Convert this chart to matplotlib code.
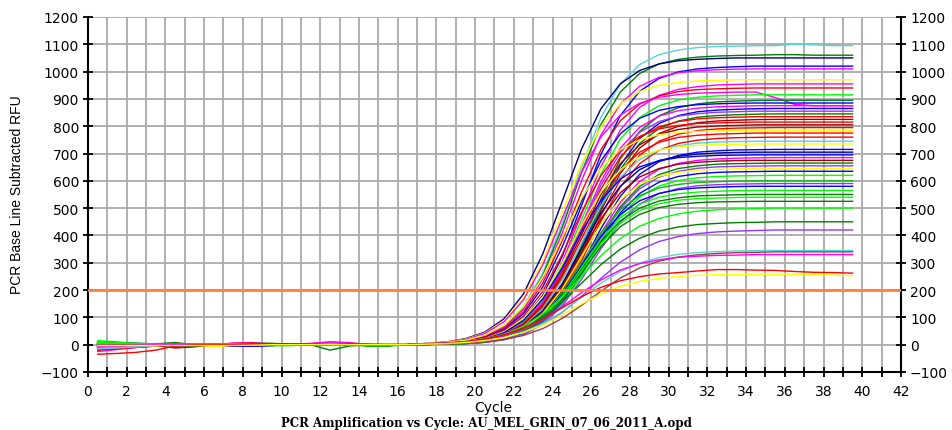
import matplotlib
matplotlib.use("Agg")
import matplotlib.pyplot as plt
import numpy as np

# PCR run AU_MEL_GRIN_07_06_2011_A, baseline subtracted RFU per well
cycles = np.arange(1, 41)
threshold = 200

well_colors = [
    "#55d5d5", "#008000", "#000080", "#0000ff", "#ff00ff", "#ffff00",
    "#ff00ff", "#ff0000", "#ff00ff", "#00ff00", "#008000", "#0000ff",
    "#ff00ff", "#0000ff", "#9933ff", "#008000", "#ff0000", "#a00000",
    "#ff0000", "#a00000", "#ff0000", "#ffff00", "#ff0000", "#ff0000",
    "#55d5d5", "#ffff00", "#0000ff", "#000080", "#0000ff", "#ff00ff",
    "#a00000", "#008000", "#9933ff", "#ffff00", "#0000ff", "#00ff00",
    "#00c000", "#9933ff", "#0000ff", "#00ff00", "#008000", "#00ff00",
    "#008000", "#00ff00", "#008000", "#9933ff", "#55d5d5", "#a04040",
    "#ff00ff", "#ff0000", "#ffff00",
]

# cycles 1-17 (baseline region)
early_rfu = [
    [-15, -14, -10, -5, 0, 0, 0, 0, 2, 2, 0, 0, 0, 0, 0, 0, 0],
    [8, 5, 3, 2, 0, 0, 0, 0, 0, 0, 0, 0, 0, 0, -5, -3, 0],
    [5, 4, 3, 2, 0, 0, 0, 0, 0, 0, 0, 0, 0, 0, 0, 0, 0],
    [-10, -8, -6, -4, -2, 0, 0, 0, -3, -3, 0, 0, 0, 0, 0, 0, 0],
    [-20, -15, -8, -3, 0, 0, 0, 0, 0, 0, 0, 5, 10, 5, 0, 0, 0],
    [-3, -3, -3, -3, -2, -3, -3, -3, 0, 0, 0, 0, 0, 0, 0, 0, 0],
    [-15, -10, -5, 0, 3, 3, 3, 3, 5, 2, 0, 0, 0, 0, 0, 0, 0],
    [-12, -10, -6, -3, 0, 0, 0, -3, -3, 0, 0, 0, 0, 0, 0, 0, 0],
    [0, 0, 3, 3, 3, 0, 0, 5, 5, 0, 0, 0, 0, 2, 2, 0, 0],
    [15, 10, 5, 2, 0, 0, 0, 0, 0, -3, -3, 0, 0, 0, -5, -5, 0],
    [10, 6, 3, 3, 8, 0, 0, 0, 3, 3, 0, 0, -20, -5, 0, 0, 0],
    [8, 5, 2, 0, 0, 0, 0, -3, -3, -3, 0, 0, 0, 0, 0, -3, 0],
    [-25, -18, -10, -5, 0, 2, 2, 5, 8, 3, 0, 0, 0, 0, 0, 0, 0],
    [-8, -6, -4, -3, -3, 0, 0, 0, 0, 0, 0, 0, 0, 0, 0, 0, 0],
    [-5, -4, -3, 0, 0, 0, 0, 0, 0, 0, 0, 0, 0, 0, 0, 0, 0],
    [5, 3, 0, 0, 0, 0, 0, 0, 5, 5, 0, 0, 0, 0, 0, -3, 0],
    [-15, -12, -8, -3, 0, 0, 0, 0, 3, 3, 0, 0, 0, 0, 0, 0, 0],
    [0, 0, 0, 0, -10, -5, 0, 0, 0, 0, 0, 0, 0, 0, 0, 0, 0],
    [-5, -5, -3, 0, 0, 0, 0, 5, 5, 0, 0, 0, 0, 0, 0, 0, 0],
    [3, 3, 0, 0, -8, -3, 0, 0, 0, 0, 0, 0, 0, 0, 0, 0, 0],
    [-20, -15, -10, -5, 0, 0, 0, 0, 0, 0, 0, 0, 0, 0, 0, 0, 0],
    [-5, -5, -5, -5, -5, -5, -5, -5, -2, 0, 0, 0, 0, 0, 0, 0, 0],
    [0, 0, 0, 0, 0, 0, 0, 3, 5, 0, 0, 0, 0, 0, 0, 0, 0],
    [-10, -8, -5, -2, 0, 0, 0, 0, 0, 0, 0, 0, 0, 0, 0, 0, 0],
    [-15, -12, -8, -4, 0, 0, 0, -3, -3, 0, 0, 0, 0, 0, 0, 0, 0],
    [0, -2, -3, -5, -5, -5, -5, -3, 0, 0, 0, 0, 0, 0, 0, 0, 0],
    [10, 8, 5, 3, 0, 0, 0, -5, -5, -3, 0, 0, 0, 0, 0, 0, 0],
    [3, 2, 0, 0, 0, 0, 0, 0, 0, 0, 0, 0, 0, 0, 0, 0, 0],
    [-5, -3, 0, 0, 0, 0, 0, -5, -5, -2, 0, 0, 0, 0, 0, 0, 0],
    [-10, -8, -5, -2, 0, 3, 3, 3, 3, 0, 0, 3, 10, 8, 0, 0, 0],
    [0, 0, 0, -3, -12, -8, 0, 0, 0, 0, 0, 0, 0, 0, 0, 0, 0],
    [3, 3, 3, 3, 0, 0, 0, 0, 3, 3, 0, 0, 0, 0, -3, -3, 0],
    [-8, -5, -3, 0, 0, 0, 0, 0, 0, 0, 0, 0, 0, 0, 0, 0, 0],
    [-2, -2, -2, -2, -3, -3, -3, -3, 0, 0, 0, 0, 0, 0, 0, 0, 0],
    [5, 3, 2, 0, 0, 0, 0, -4, -4, -2, 0, 0, 0, 0, 0, 0, 0],
    [12, 8, 5, 3, 3, 3, 3, 3, 3, 0, 0, 0, 0, 0, 0, -3, 0],
    [0, 0, 0, 2, 3, 0, 0, 0, 0, 0, 0, 0, 0, 0, -2, -2, 0],
    [-10, -8, -6, -3, 0, 0, 0, 0, 0, 0, 0, 0, 0, 0, 0, 0, 0],
    [0, 0, 0, 0, 0, 0, 0, -4, -4, 0, 0, 0, 0, 0, 0, 0, 0],
    [5, 3, 2, 0, 0, 0, 0, 0, 0, -3, -3, 0, 0, 0, 0, 0, 0],
    [0, 0, 0, 0, -8, -5, 0, 0, 0, 0, 0, 0, 0, 0, -4, -4, 0],
    [3, 2, 0, 0, 0, 0, 0, 2, 2, 0, 0, 0, 0, 0, 0, 0, 0],
    [0, 0, 0, 0, 0, 0, 0, 0, 3, 3, 3, 0, 0, 0, -3, 0, 0],
    [8, 5, 3, 0, 0, 0, 0, 0, 0, 0, 0, 0, 0, 0, 0, 0, 0],
    [0, 0, 0, 0, -5, -3, 0, 0, 0, 0, 0, 0, 0, 0, 0, 0, 0],
    [-5, -3, 0, 0, 0, 0, 0, 0, 0, 0, 0, 0, 0, 0, 0, 0, 0],
    [-12, -10, -6, -3, 0, 0, 0, -2, 0, 0, 0, 0, 0, 0, 0, 0, 0],
    [0, 0, 0, 0, -5, -3, 0, 0, 0, 0, 0, 0, 0, 0, 0, 0, 0],
    [-8, -5, -3, 0, 0, 0, 0, 0, 0, 0, 0, 0, 0, 0, 0, 0, 0],
    [-35, -32, -28, -20, -5, 0, 0, 0, 0, 0, 0, 0, 0, 0, 0, 0, 0],
    [-3, -3, -3, -3, -3, -3, -3, -3, -2, 0, 0, 0, 0, 0, 0, 0, 0],
]

# cycles 18-40 (amplification and plateau)
late_rfu = [
    [3, 7, 16, 33, 69, 140, 263, 443, 652, 832, 955, 1026, 1062, 1079, 1088, 1092, 1093, 1095, 1095, 1100, 1098, 1095, 1095],
    [3, 7, 15, 32, 67, 135, 254, 429, 631, 806, 925, 993, 1028, 1045, 1053, 1057, 1059, 1060, 1062, 1062, 1060, 1060, 1060],
    [5, 10, 22, 46, 95, 186, 333, 525, 717, 864, 955, 1004, 1028, 1040, 1045, 1048, 1050, 1050, 1050, 1050, 1050, 1050, 1050],
    [2, 5, 10, 21, 45, 92, 181, 323, 510, 697, 839, 928, 975, 999, 1010, 1015, 1018, 1020, 1020, 1020, 1020, 1020, 1020],
    [3, 7, 14, 31, 64, 129, 242, 409, 601, 768, 881, 946, 979, 996, 1003, 1007, 1009, 1010, 1010, 1010, 1010, 1010, 1010],
    [4, 10, 20, 43, 88, 172, 307, 485, 663, 798, 882, 927, 950, 960, 966, 968, 970, 970, 970, 970, 970, 970, 970],
    [2, 4, 9, 20, 42, 86, 169, 303, 478, 652, 786, 869, 913, 935, 945, 951, 953, 955, 955, 955, 955, 955, 955],
    [3, 6, 13, 29, 60, 120, 226, 381, 559, 714, 820, 881, 911, 927, 934, 937, 939, 940, 940, 940, 940, 940, 940],
    [4, 9, 19, 41, 84, 164, 293, 463, 632, 761, 841, 884, 906, 916, 921, 923, 925, 925, 905, 880, 875, 875, 875],
    [2, 4, 9, 19, 40, 83, 162, 290, 458, 625, 753, 832, 875, 896, 906, 911, 913, 915, 915, 915, 915, 915, 915],
    [1, 3, 6, 13, 27, 57, 114, 215, 362, 533, 680, 781, 838, 868, 882, 889, 892, 894, 895, 895, 895, 895, 895],
    [3, 6, 13, 27, 56, 113, 212, 358, 527, 673, 772, 829, 858, 872, 879, 882, 884, 885, 885, 885, 885, 885, 885],
    [2, 4, 9, 18, 39, 79, 155, 277, 438, 598, 720, 796, 837, 857, 866, 871, 873, 875, 875, 875, 875, 875, 875],
    [1, 3, 6, 12, 26, 55, 110, 208, 350, 515, 657, 755, 810, 839, 853, 859, 862, 864, 865, 865, 865, 865, 865],
    [2, 4, 8, 18, 38, 77, 151, 271, 428, 584, 704, 778, 817, 837, 846, 851, 853, 855, 855, 855, 855, 855, 855],
    [1, 3, 6, 12, 26, 53, 108, 203, 342, 503, 642, 737, 792, 819, 833, 839, 842, 844, 845, 845, 845, 845, 845],
    [2, 4, 8, 17, 37, 76, 148, 265, 418, 570, 687, 759, 798, 817, 827, 831, 833, 835, 835, 835, 835, 835, 835],
    [1, 3, 6, 12, 25, 52, 105, 198, 334, 491, 627, 720, 773, 800, 813, 819, 822, 824, 825, 825, 825, 825, 825],
    [3, 5, 12, 25, 52, 104, 196, 330, 485, 619, 711, 763, 790, 803, 810, 812, 814, 815, 815, 815, 815, 815, 815],
    [2, 4, 8, 17, 35, 73, 142, 255, 403, 550, 663, 732, 770, 788, 797, 801, 803, 805, 805, 805, 805, 805, 805],
    [1, 2, 5, 11, 24, 50, 101, 191, 322, 473, 604, 694, 745, 771, 784, 790, 793, 794, 795, 795, 795, 795, 795],
    [4, 8, 16, 35, 71, 139, 249, 393, 536, 646, 714, 750, 769, 777, 781, 783, 785, 785, 785, 785, 785, 785, 785],
    [2, 4, 8, 16, 34, 70, 137, 246, 388, 529, 638, 705, 741, 759, 767, 771, 773, 775, 775, 775, 775, 775, 775],
    [1, 2, 5, 11, 23, 48, 97, 182, 308, 452, 578, 663, 712, 737, 749, 755, 758, 759, 760, 760, 760, 760, 760],
    [1, 3, 7, 16, 33, 67, 132, 236, 373, 509, 613, 678, 712, 729, 738, 742, 744, 745, 745, 745, 745, 745, 745],
    [2, 5, 11, 22, 47, 94, 176, 298, 437, 559, 641, 688, 713, 724, 730, 733, 734, 735, 735, 735, 735, 735, 735],
    [1, 2, 5, 10, 22, 45, 91, 172, 290, 425, 543, 624, 670, 693, 705, 710, 713, 714, 715, 715, 715, 715, 715],
    [1, 3, 7, 15, 31, 64, 125, 223, 353, 482, 580, 641, 674, 690, 698, 702, 704, 705, 705, 705, 705, 705, 705],
    [2, 5, 10, 21, 44, 89, 167, 281, 414, 528, 606, 651, 674, 685, 690, 693, 694, 695, 695, 695, 695, 695, 695],
    [1, 2, 5, 10, 21, 43, 87, 164, 277, 408, 521, 598, 642, 664, 675, 680, 683, 684, 685, 685, 685, 685, 685],
    [1, 3, 7, 14, 30, 61, 119, 214, 338, 461, 556, 614, 645, 661, 668, 672, 674, 675, 675, 675, 675, 675, 675],
    [1, 2, 4, 10, 20, 42, 85, 160, 269, 396, 505, 580, 623, 645, 655, 661, 663, 664, 665, 665, 665, 665, 665],
    [1, 2, 4, 9, 20, 41, 84, 157, 265, 390, 498, 571, 614, 635, 646, 651, 653, 654, 655, 655, 655, 655, 655],
    [1, 3, 6, 13, 28, 58, 114, 204, 323, 441, 531, 587, 617, 631, 639, 642, 644, 645, 645, 645, 645, 645, 645],
    [1, 2, 4, 9, 19, 40, 81, 152, 257, 378, 483, 554, 595, 616, 626, 631, 633, 634, 635, 635, 635, 635, 635],
    [1, 2, 4, 9, 19, 39, 79, 149, 251, 369, 471, 541, 581, 601, 611, 616, 618, 619, 620, 620, 620, 620, 620],
    [1, 3, 6, 13, 26, 54, 106, 190, 300, 410, 494, 546, 574, 587, 594, 597, 599, 600, 600, 600, 600, 600, 600],
    [1, 2, 4, 8, 18, 37, 75, 142, 239, 351, 448, 515, 553, 572, 582, 586, 588, 589, 590, 590, 590, 590, 590],
    [1, 3, 6, 12, 26, 52, 103, 184, 290, 396, 477, 527, 554, 568, 574, 577, 579, 580, 580, 580, 580, 580, 580],
    [1, 3, 6, 12, 25, 51, 100, 179, 283, 386, 465, 514, 540, 553, 559, 562, 564, 565, 565, 565, 565, 565, 565],
    [1, 3, 5, 11, 24, 50, 97, 174, 275, 376, 453, 500, 526, 538, 545, 547, 549, 550, 550, 550, 550, 550, 550],
    [1, 2, 5, 11, 24, 49, 96, 171, 270, 369, 444, 491, 516, 529, 535, 537, 539, 540, 540, 540, 540, 540, 540],
    [1, 2, 5, 11, 23, 48, 93, 166, 263, 359, 432, 477, 502, 514, 520, 523, 524, 525, 525, 525, 525, 525, 525],
    [3, 6, 12, 21, 38, 67, 112, 175, 250, 326, 389, 434, 462, 479, 489, 494, 497, 498, 500, 500, 500, 500, 500],
    [3, 6, 10, 19, 34, 60, 100, 157, 225, 293, 350, 390, 416, 431, 440, 444, 447, 448, 450, 450, 450, 450, 450],
    [2, 4, 7, 13, 24, 42, 73, 118, 177, 243, 302, 347, 378, 396, 407, 413, 416, 418, 420, 420, 420, 420, 420],
    [2, 4, 8, 14, 26, 46, 77, 120, 173, 225, 268, 299, 319, 331, 337, 341, 343, 344, 345, 345, 345, 345, 345],
    [2, 3, 6, 11, 19, 34, 59, 96, 144, 196, 244, 281, 306, 321, 329, 334, 337, 338, 340, 340, 340, 340, 340],
    [3, 6, 10, 19, 33, 57, 93, 139, 191, 237, 273, 297, 311, 320, 324, 327, 328, 330, 330, 330, 330, 330, 330],
    [3, 6, 11, 20, 36, 60, 94, 135, 176, 210, 234, 249, 259, 264, 270, 275, 275, 273, 272, 268, 265, 264, 262],
    [2, 4, 8, 15, 26, 45, 72, 109, 149, 186, 213, 232, 243, 250, 254, 256, 257, 258, 258, 258, 257, 255, 252],
]

rfu = np.hstack([np.array(early_rfu, dtype=float), np.array(late_rfu, dtype=float)])

fig = plt.figure(figsize=(9.52, 4.31), dpi=100)
ax = fig.add_axes([0.0924, 0.1346, 0.854, 0.8237])

# the software draws each reading half a cycle left of its cycle number
x = cycles - 0.5
for color, row in zip(well_colors, rfu):
    ax.plot(x, row, color=color, lw=1.0, zorder=3)
ax.axhline(threshold, color="#ff8040", lw=2, zorder=4)

ax.set_xlim(0, 42)
ax.set_ylim(-100, 1200)
ax.set_xticks(np.arange(0, 43, 2))
ax.set_xticks(np.arange(0, 43, 1), minor=True)
ax.set_yticks(np.arange(-100, 1201, 100))
ax.set_axisbelow(True)
ax.grid(which="both", axis="x", color="#aaaaaa", lw=1.3)
ax.grid(which="major", axis="y", color="#aaaaaa", lw=1.3)

ax.tick_params(which="both", direction="inout", length=7, width=1.3,
               colors="black", labelsize=10, right=True, labelright=True)
ax.tick_params(axis="y", pad=3)
ax.tick_params(axis="x", pad=5)
for side in ("left", "bottom", "right"):
    ax.spines[side].set_linewidth(1.5)
ax.spines["top"].set_visible(False)

fig.text(17 / 952, 1 - 195 / 431, "PCR Base Line Subtracted RFU", rotation=90,
         ha="center", va="center", fontsize=10, family="Liberation Sans")
fig.text(493 / 952, 1 - 408 / 431, "Cycle", ha="center", va="center", fontsize=10)
fig.text(486 / 952, 1 - 424 / 431,
         "PCR Amplification vs Cycle: AU_MEL_GRIN_07_06_2011_A.opd",
         ha="center", va="center", fontsize=8.5, family="DejaVu Serif", weight="bold")

fig.savefig("out.png", dpi=100)
